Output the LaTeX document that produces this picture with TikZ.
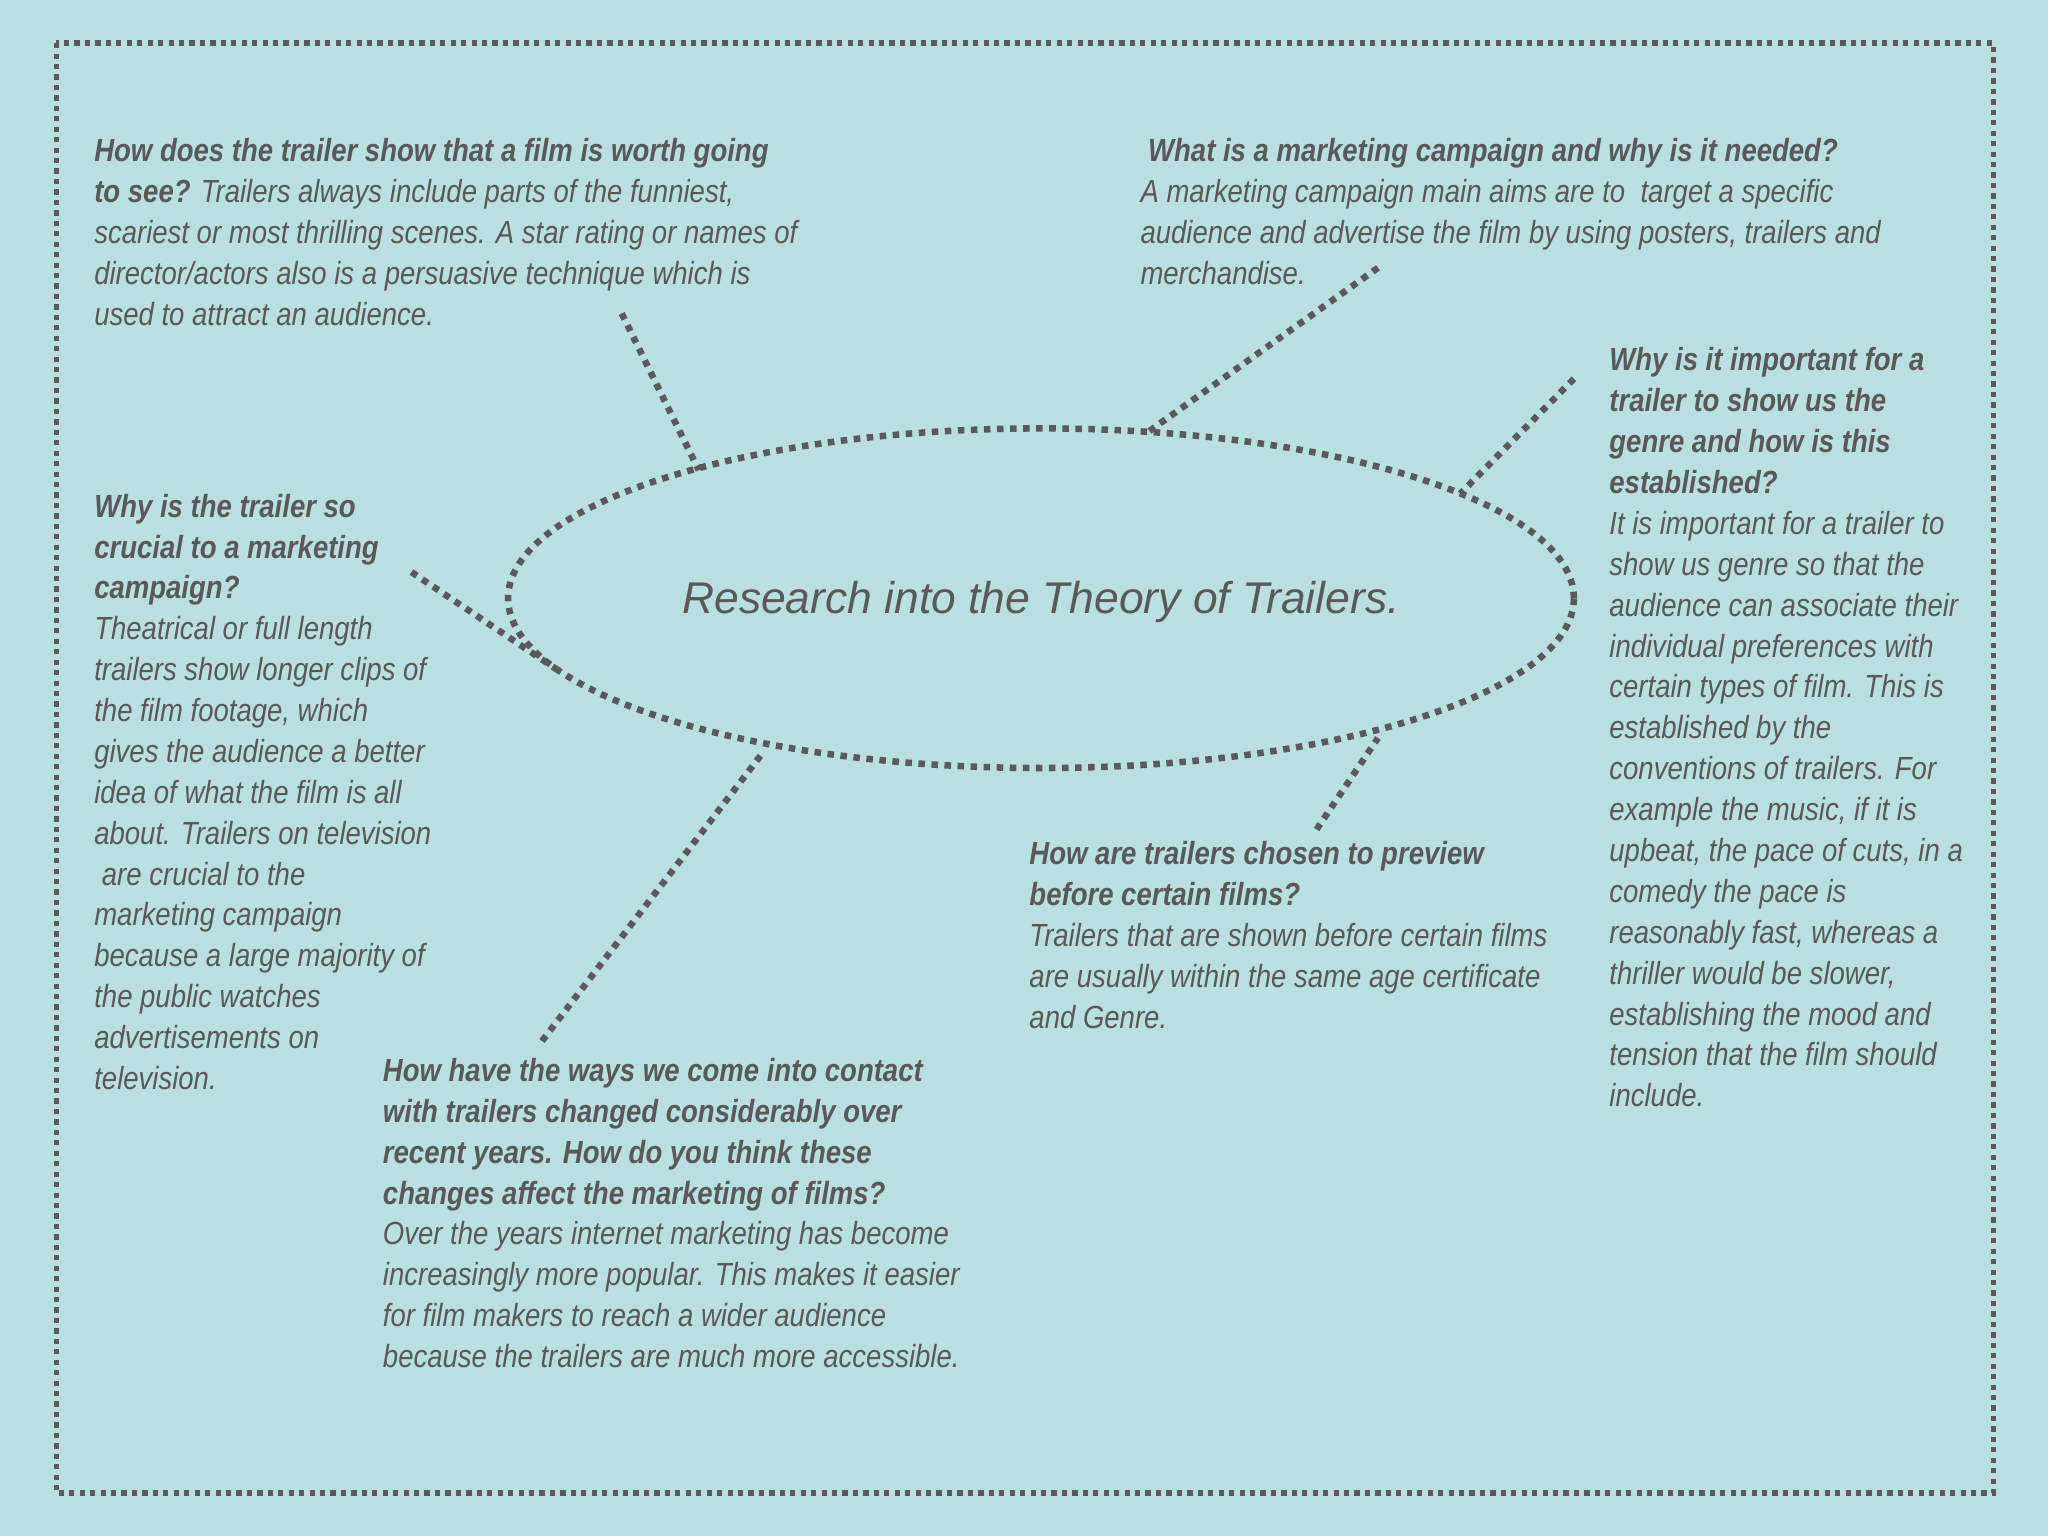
\documentclass[tikz,border=0pt]{standalone}
\usepackage{fontspec}
\usetikzlibrary{shapes.geometric}
\setmainfont{Liberation Sans}[FakeStretch=0.86]
\newfontfamily\titlefont{Liberation Sans}
\begin{document}
\begin{tikzpicture}[x=1pt,y=-1pt,
  txt/.style={anchor=north west,align=left,inner sep=0pt,text=textgray,font=\fontsize{24.5}{31.3}\selectfont\itshape},
  dots/.style={draw=linegray,line width=5pt,dash pattern=on 5pt off 5pt}]
\definecolor{bg}{HTML}{B9DFE1}
\definecolor{textgray}{HTML}{595959}
\definecolor{linegray}{HTML}{5A5A5E}
\fill[bg] (0,0) rectangle (1568,1176);
\useasboundingbox (0,0) rectangle (1568,1176);
\draw[draw=linegray,line width=4pt,dash pattern=on 4pt off 4pt] (43,33) rectangle (1526,1143);
\node[dots,ellipse,minimum width=816pt,minimum height=260pt,inner sep=0pt] (e) at (797,458) {};
\node[text=textgray,font=\titlefont\fontsize{34}{40}\selectfont\itshape] (t) at (797,461) {Research into the Theory of Trailers.};
\node[txt] (a) at (72,106) {\textbf{How does the trailer show that a film is worth going}\\\textbf{to see?} Trailers always include parts of the funniest,\\scariest or most thrilling scenes. A star rating or names of\\director/actors also is a persuasive technique which is\\used to attract an audience.};
\node[txt] (b) at (873,106) {\textbf{\ What is a marketing campaign and why is it needed?}\\A marketing campaign main aims are to\ \ target a specific\\audience and advertise the film by using posters, trailers and\\merchandise.};
\node[txt] (c) at (1232,266) {\textbf{Why is it important for a}\\\textbf{trailer to show us the}\\\textbf{genre and how is this}\\\textbf{established?}\\It is important for a trailer to\\show us genre so that the\\audience can associate their\\individual preferences with\\certain types of film. This is\\established by the\\conventions of trailers. For\\example the music, if it is\\upbeat, the pace of cuts, in a\\comedy the pace is\\reasonably fast, whereas a\\thriller would be slower,\\establishing the mood and\\tension that the film should\\include.};
\node[txt] (d) at (72,378) {\textbf{Why is the trailer so}\\\textbf{crucial to a marketing}\\\textbf{campaign?}\\Theatrical or full length\\trailers show longer clips of\\the film footage, which\\gives the audience a better\\idea of what the film is all\\about. Trailers on television\\\ are crucial to the\\marketing campaign\\because a large majority of\\the public watches\\advertisements on\\television.};
\node[txt] (f) at (293,810) {\textbf{How have the ways we come into contact}\\\textbf{with trailers changed considerably over}\\\textbf{recent years. How do you think these}\\\textbf{changes affect the marketing of films?}\\Over the years internet marketing has become\\increasingly more popular. This makes it easier\\for film makers to reach a wider audience\\because the trailers are much more accessible.};
\node[txt] (g) at (788,644) {\textbf{How are trailers chosen to preview}\\\textbf{before certain films?}\\Trailers that are shown before certain films\\are usually within the same age certificate\\and Genre.};
\coordinate (a1) at (476,240); \coordinate (a2) at (535,360);
\coordinate (b1) at (1055,205); \coordinate (b2) at (880,330);
\coordinate (c1) at (1205,290); \coordinate (c2) at (1118,378);
\coordinate (d1) at (315,438); \coordinate (d2) at (430,515);
\coordinate (f1) at (415,797); \coordinate (f2) at (585,575);
\coordinate (g1) at (1008,635); \coordinate (g2) at (1055,565);
\draw[dots] (a1)--(a2);
\draw[dots] (b1)--(b2);
\draw[dots] (c1)--(c2);
\draw[dots] (d1)--(d2);
\draw[dots] (f1)--(f2);
\draw[dots] (g1)--(g2);
\end{tikzpicture}
\end{document}
